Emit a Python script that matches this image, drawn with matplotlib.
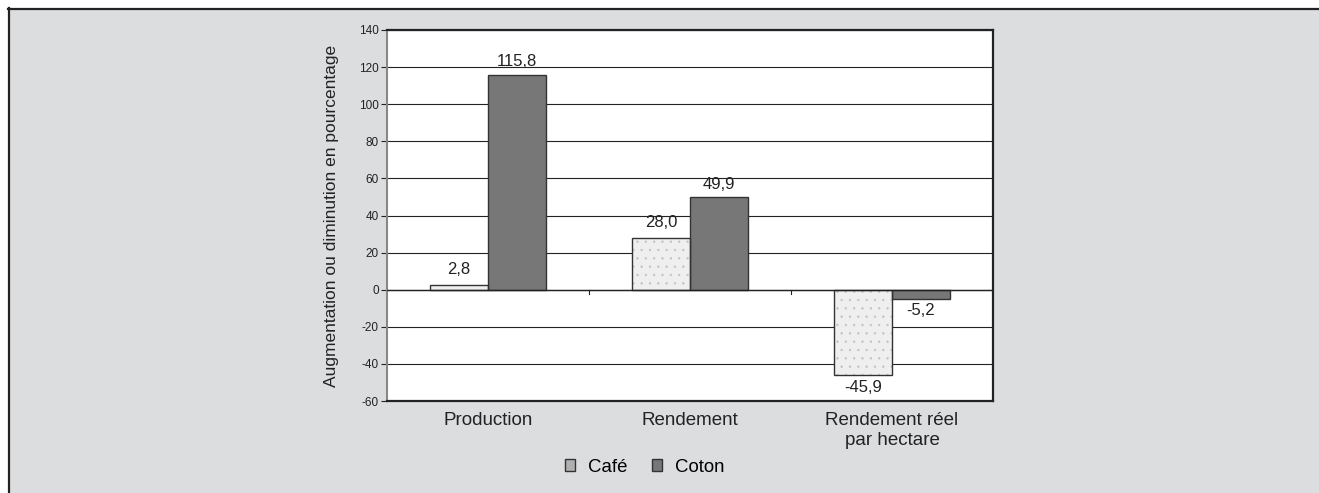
import matplotlib
matplotlib.use("Agg")
import matplotlib.pyplot as plt
from matplotlib.patches import Rectangle
import numpy as np

plt.rcParams['font.family'] = ['Liberation Sans', 'DejaVu Sans']
plt.rcParams['hatch.linewidth'] = 0.5

categories = ["Production", "Rendement", "Rendement réel\npar hectare"]
cafe = [2.8, 28.0, -45.9]
coton = [115.8, 49.9, -5.2]
cafe_labels = ["2,8", "28,0", "-45,9"]
coton_labels = ["115,8", "49,9", "-5,2"]
yticks = [-60, -40, -20, 0, 20, 40, 60, 80, 100, 120, 140]

W, H = 1319, 493
fig = plt.figure(figsize=(W/100, H/100), dpi=100)
fig.patch.set_facecolor('white')

# outer grey panel with dark top/left border
bgax = fig.add_axes([0, 0, 1, 1], zorder=-10)
bgax.set_xlim(0, W)
bgax.set_ylim(H, 0)
bgax.axis('off')
bgax.add_patch(Rectangle((8, 8), W, H, facecolor='#dcdddf', edgecolor='none'))
bgax.plot([8, W], [8.5, 8.5], color='#222222', lw=1.6)
bgax.plot([8.5, 8.5], [8, H], color='#222222', lw=1.6)

ax = fig.add_axes([387/W, 1 - 401/H, (993 - 387)/W, (401 - 30)/H], zorder=1)
ax.set_facecolor('white')

x = np.arange(len(categories))
bw = 0.287
# Café: fill, then light dotted hatch, then outline
ax.bar(x - bw/2, cafe, bw, color='#efefef', edgecolor='none', linewidth=0, zorder=3)
ax.bar(x - bw/2, cafe, bw, color='none', edgecolor='#c4c4c4', linewidth=0,
       hatch='..', zorder=3.1)
b1 = ax.bar(x - bw/2, cafe, bw, color='none', edgecolor='#333333', linewidth=1.0,
            zorder=3.2, label='Café')
b2 = ax.bar(x + bw/2, coton, bw, color='#777777', edgecolor='#333333', linewidth=1.0,
            zorder=3, label='Coton')

fs_lab = 12
for xi, v, lab in zip(x - bw/2, cafe, cafe_labels):
    if v >= 0:
        ax.text(xi, v + 4, lab, ha='center', va='bottom', fontsize=fs_lab, color='#222222')
    else:
        ax.text(xi, v - 3, lab, ha='center', va='top', fontsize=fs_lab, color='#222222')
for xi, v, lab in zip(x + bw/2, coton, coton_labels):
    if v >= 0:
        ax.text(xi, v + 3, lab, ha='center', va='bottom', fontsize=fs_lab, color='#222222')
    else:
        ax.text(xi, v - 2, lab, ha='center', va='top', fontsize=fs_lab, color='#222222')

ax.set_ylim(-60, 140)
ax.set_xlim(-0.5, 2.5)
ax.set_yticks(yticks)
ax.set_yticklabels([str(t) for t in yticks], fontsize=8.5, color='#222222')
ax.yaxis.grid(True, color='#222222', linewidth=0.8, zorder=0)
ax.set_axisbelow(True)
ax.tick_params(axis='y', length=4, width=0.8, color='#222222', pad=2)

ax.set_xticks(x)
ax.set_xticklabels(categories, fontsize=13.5, color='#222222')
ax.tick_params(axis='x', length=0, pad=8)

# zero-line ticks between categories
for xb in [0.5, 1.5]:
    ax.plot([xb, xb], [0, -2.5], color='#222222', lw=0.8, zorder=4, clip_on=False)
ax.axhline(0, color='#222222', lw=1.0, zorder=4)

for sp in ['top', 'right']:
    ax.spines[sp].set_color('#222222')
    ax.spines[sp].set_linewidth(1.6)
ax.spines['left'].set_color('#888888')
ax.spines['left'].set_linewidth(1.5)
ax.spines['bottom'].set_color('#222222')
ax.spines['bottom'].set_linewidth(1.6)

ax.set_ylabel("Augmentation ou diminution en pourcentage", fontsize=12.5, color='#222222', labelpad=14)

leg = fig.legend(handles=[b1, b2], labels=['Café', 'Coton'], loc='center',
                 bbox_to_anchor=(645/W, 1 - 467/H), ncol=2, frameon=False,
                 fontsize=13.4, handlelength=0.55, handleheight=0.6, handletextpad=0.7,
                 columnspacing=1.3)
for p in leg.get_patches():
    p.set_hatch(None)
leg.get_patches()[0].set_facecolor('#b0b0b0')
leg.get_patches()[1].set_facecolor('#777777')

fig.savefig("out.png", dpi=100, facecolor=fig.get_facecolor())
